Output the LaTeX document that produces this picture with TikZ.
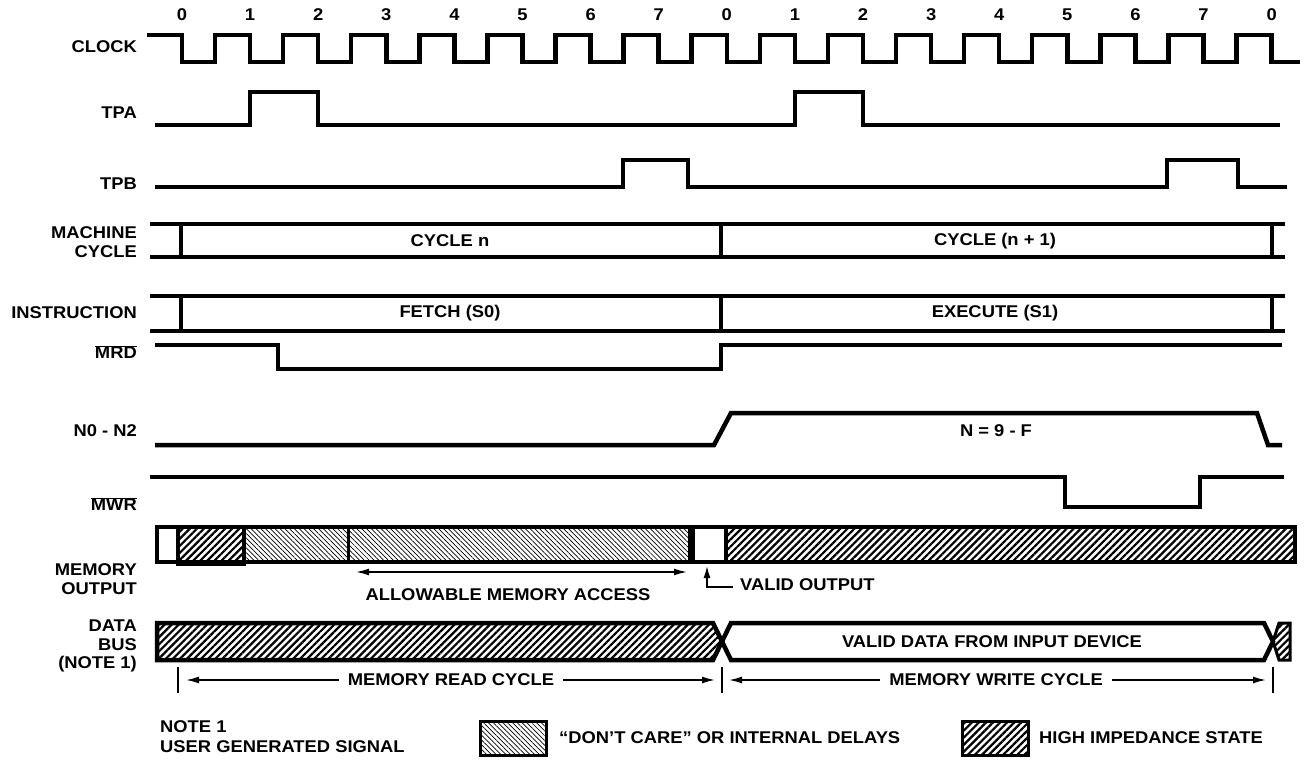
\documentclass[tikz,border=0pt]{standalone}
\usepackage{fontspec}
\setmainfont{Liberation Sans}[FakeStretch=1.08]
\usetikzlibrary{patterns.meta,arrows.meta}
\tikzset{
  sig/.style={line width=4.5pt, line join=miter},
  bord/.style={line width=4.5pt},
  lbl/.style={font=\bfseries\fontsize{17}{18.5}\selectfont, inner sep=0pt, align=right, anchor=east},
  txt/.style={font=\bfseries\fontsize{17}{19}\selectfont, inner sep=0pt},
  num/.style={font=\bfseries\fontsize{17}{19}\selectfont, inner sep=0pt},
  darkhatch/.style={pattern={Lines[angle=45,distance=5pt,line width=2.2pt]}},
  lighthatch/.style={pattern={Lines[angle=-45,distance=3.4pt,line width=0.7pt]}},
  dim/.style={line width=1.6pt, {Latex[length=13pt,width=7pt]}-{Latex[length=13pt,width=7pt]}},
  tick/.style={line width=1.6pt}
}
\begin{document}
\begin{tikzpicture}[x=1pt,y=-1pt]
\useasboundingbox (0,0) rectangle (1307,768);

% ---- labels ----
\node[lbl] (lclk) at (137,47) {CLOCK};
\node[lbl] (ltpa) at (137,113) {TPA};
\node[lbl] (ltpb) at (137,184) {TPB};
\node[lbl] (lmc) at (137,242) {MACHINE\\CYCLE};
\node[lbl] (lins) at (137,313) {INSTRUCTION};
\node[lbl] (lmrd) at (137,352) {$\overline{\hbox{MRD}}$};
\node[lbl] (ln) at (137,431) {N0 - N2};
\node[lbl] (lmwr) at (137,504) {$\overline{\hbox{MWR}}$};
\node[lbl] (lmo) at (137,579) {MEMORY\\OUTPUT};
\node[lbl] (ldb) at (137,646) {DATA\\BUS\\(NOTE 1)};

% ---- clock numbers ----
\foreach \k/\n in {0/0,1/1,2/2,3/3,4/4,5/5,6/6,7/7,8/0,9/1,10/2,11/3,12/4,13/5,14/6,15/7,16/0}
  \node[num] (n\k) at ({182+68.1*\k},15) {\n};

% ---- clock ----
\draw[sig] (147,35) foreach \k in {0,...,15} { -- ({182+68.1*\k},35) -- ({182+68.1*\k},62) -- ({215+68.1*\k},62) -- ({215+68.1*\k},35) } -- (1271.6,35) -- (1271.6,62) -- (1300,62);

% ---- TPA ----
\draw[sig] (155,125) -- (250,125) -- (250,92) -- (318,92) -- (318,125) -- (795,125) -- (795,92) -- (863,92) -- (863,125) -- (1280,125);

% ---- TPB ----
\draw[sig] (155,187) -- (623,187) -- (623,160) -- (688,160) -- (688,187) -- (1167,187) -- (1167,160) -- (1238,160) -- (1238,187) -- (1287,187);

% ---- machine cycle ----
\draw[sig] (150,224) -- (1285,224);
\draw[sig] (150,257) -- (1285,257);
\foreach \x in {181,721,1272} \draw[sig] (\x,224) -- (\x,257);
\node[txt] (cn) at (450,241) {CYCLE n};
\node[txt] (cn1) at (995,241) {CYCLE (n + 1)};

% ---- instruction ----
\draw[sig] (150,296) -- (1285,296);
\draw[sig] (150,331) -- (1285,331);
\foreach \x in {181,721,1272} \draw[sig] (\x,296) -- (\x,331);
\node[txt] (fe) at (450,313) {FETCH (S0)};
\node[txt] (ex) at (995,313) {EXECUTE (S1)};

% ---- MRD ----
\draw[sig] (155,345) -- (278,345) -- (278,369) -- (721,369) -- (721,345) -- (1282,345);

% ---- N0-N2 ----
\draw[sig] (155,445) -- (714,445) -- (731,413) -- (1257,413) -- (1268,445) -- (1282,445);
\node[txt] (n9f) at (996,431) {N = 9 - F};

% ---- MWR ----
\draw[sig] (150,477) -- (1065,477) -- (1065,507) -- (1200,507) -- (1200,477) -- (1284,477);

% ---- memory output ----
\fill[darkhatch] (178,527) rectangle (244,562);
\fill[lighthatch] (245,527) rectangle (348,562);
\fill[lighthatch] (348,527) rectangle (690,562);
\fill[darkhatch] (726,527) rectangle (1295,562);
\draw[bord] (157,527) rectangle (1295,562);
\draw[line width=3.5pt] (178,527) rectangle (244,564);
\draw[line width=3pt] (348,527) -- (348,562);
\draw[line width=7pt] (691,527) -- (691,562);
\draw[line width=4pt] (726,527) -- (726,562);

\coordinate (aa) at (356,572);
\coordinate (ab) at (687,572);
\draw[dim] (aa) -- (ab);
\node[txt] (amacc) at (508,595) {ALLOWABLE MEMORY ACCESS};

\coordinate (vo1) at (733,587);
\coordinate (vo2) at (707,587);
\coordinate (vo3) at (707,566);
\draw[line width=1.6pt, -{Latex[length=12pt,width=7pt]}] (vo1) -- (vo2) -- (vo3);
\node[txt, anchor=west] (vout) at (740,585) {VALID OUTPUT};

% ---- data bus ----
\filldraw[bord, darkhatch, line join=miter] (157,623) -- (713,623) -- (722,641.5) -- (713,660) -- (157,660) -- cycle;
\draw[bord, line join=miter] (722,641.5) -- (731,623) -- (1264,623) -- (1273,641.5) -- (1264,660) -- (731,660) -- cycle;
\filldraw[line width=3pt, darkhatch, line join=miter] (1273,641.5) -- (1279,623) -- (1290,623) -- (1290,660) -- (1279,660) -- cycle;
\node[txt] (vd) at (992,641.5) {VALID DATA FROM INPUT DEVICE};

% ---- cycle spans ----
\coordinate (t1a) at (178,667); \coordinate (t1b) at (178,693);
\coordinate (t2a) at (722,667); \coordinate (t2b) at (722,693);
\coordinate (t3a) at (1273,667); \coordinate (t3b) at (1273,693);
\draw[tick] (t1a) -- (t1b);
\draw[tick] (t2a) -- (t2b);
\draw[tick] (t3a) -- (t3b);
\coordinate (r1) at (186,680); \coordinate (r2) at (715,680);
\coordinate (w1) at (729,680); \coordinate (w2) at (1266,680);
\draw[dim] (r1) -- (r2);
\draw[dim] (w1) -- (w2);
\node[txt, fill=white, inner xsep=9pt, inner ysep=2pt] (mrc) at (451,680) {MEMORY READ CYCLE};
\node[txt, fill=white, inner xsep=9pt, inner ysep=2pt] (mwc) at (996,680) {MEMORY WRITE CYCLE};

% ---- legend ----
\node[txt, anchor=west] (note) at (160,727) {NOTE 1};
\node[txt, anchor=west] (ugs) at (160,747) {USER GENERATED SIGNAL};
\filldraw[line width=3pt, lighthatch] (480,721) rectangle (546,755);
\node[txt, anchor=west] (dc) at (559,738) {“DON’T CARE” OR INTERNAL DELAYS};
\filldraw[line width=3pt, darkhatch] (962,721) rectangle (1028,755);
\node[txt, anchor=west] (hi) at (1039,738) {HIGH IMPEDANCE STATE};
\end{tikzpicture}
\end{document}
